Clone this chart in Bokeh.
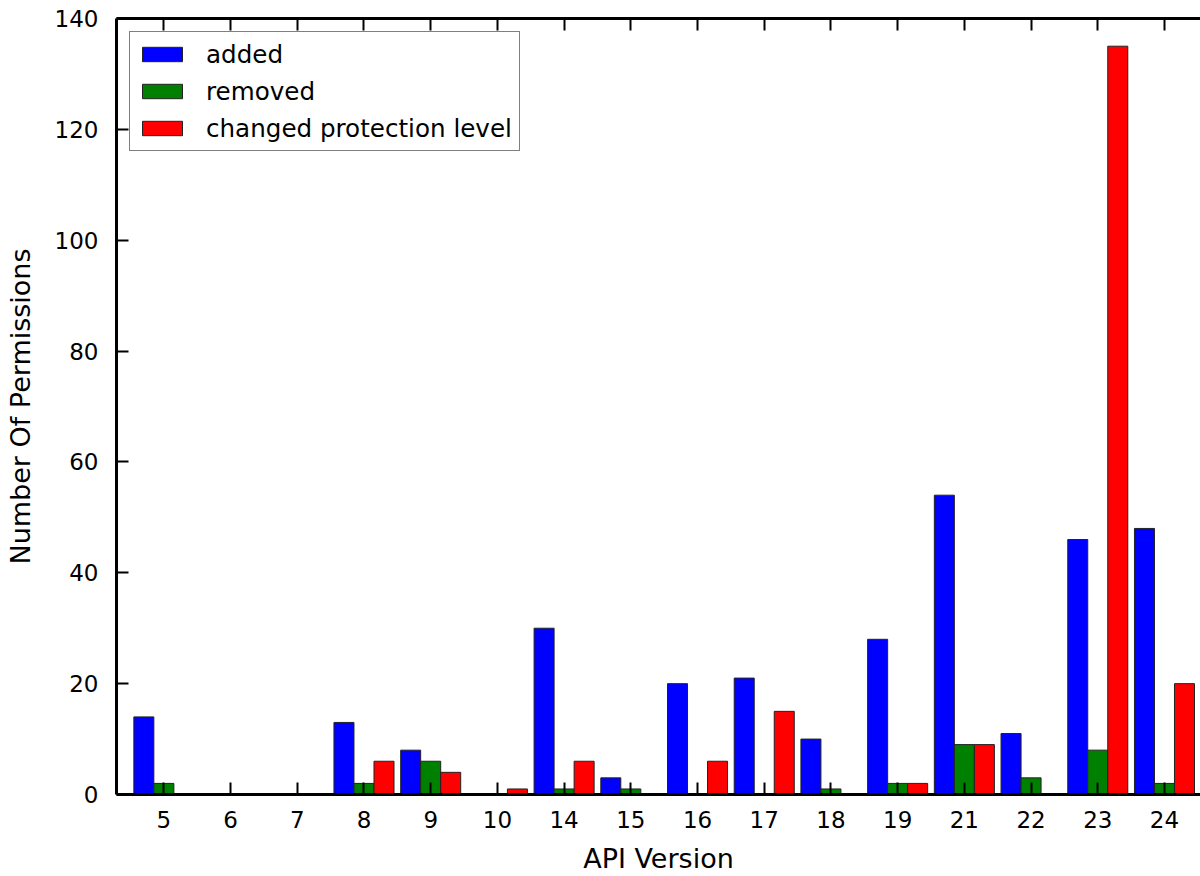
from bokeh.plotting import figure
from bokeh.models import (ColumnDataSource, Range1d, FixedTicker, LinearAxis, Legend, LegendItem)
from bokeh.transform import dodge
from bokeh.embed import file_html
from bokeh.resources import INLINE

# ---- data ----
api_versions = ["5", "6", "7", "8", "9", "10", "14", "15", "16", "17", "18", "19", "21", "22", "23", "24"]
added = [14, 0, 0, 13, 8, 0, 30, 3, 20, 21, 10, 28, 54, 11, 46, 48]
removed = [2, 0, 0, 2, 6, 0, 1, 1, 0, 0, 1, 2, 9, 3, 8, 2]
changed = [0, 0, 0, 6, 4, 1, 6, 0, 6, 15, 0, 2, 9, 0, 135, 20]
y_ticks = [0, 20, 40, 60, 80, 100, 120, 140]

idx = list(range(len(api_versions)))
src = ColumnDataSource(dict(idx=idx, added=added, removed=removed, changed=changed))

FONT = "DejaVu Sans"

p = figure(width=1200, height=876, output_backend="svg", toolbar_location=None,
           x_range=Range1d(-0.71, 15.54), y_range=Range1d(0, 140),
           min_border_left=116, min_border_top=18, min_border_right=0, min_border_bottom=0)
p.outline_line_color = None
p.grid.visible = False
p.background_fill_color = "white"
p.border_fill_color = "white"

bw = 0.3
r1 = p.vbar(x=dodge("idx", -0.3), top="added", width=bw, source=src,
            fill_color="#0000ff", line_color="#222222", line_width=1)
r2 = p.vbar(x=dodge("idx", 0.0), top="removed", width=bw, source=src,
            fill_color="#008000", line_color="#222222", line_width=1)
r3 = p.vbar(x=dodge("idx", 0.3), top="changed", width=bw, source=src,
            fill_color="#ff0000", line_color="#222222", line_width=1)

# axes styling
xa = p.xaxis[0]
xa.ticker = FixedTicker(ticks=idx)
xa.major_label_overrides = {i: v for i, v in zip(idx, api_versions)}
ya = p.yaxis[0]
ya.ticker = FixedTicker(ticks=y_ticks)

for ax in (xa, ya):
    ax.axis_line_width = 3
    ax.axis_line_color = "black"
    ax.major_tick_in = 12
    ax.major_tick_out = 0
    ax.major_tick_line_width = 2
    ax.minor_tick_line_color = None
    ax.major_label_text_font = FONT
    ax.major_label_text_font_size = "23px"
    ax.major_label_text_color = "black"
    ax.axis_label_text_font = FONT
    ax.axis_label_text_font_size = "27px"
    ax.axis_label_text_font_style = "normal"
    ax.axis_label_text_color = "black"

xa.axis_label = "API Version"
xa.major_label_standoff = 16
xa.axis_label_standoff = 12
ya.axis_label = "Number Of Permissions"
ya.major_label_standoff = 18
ya.axis_label_standoff = 16

# top spine with inward ticks
top = LinearAxis(ticker=FixedTicker(ticks=idx), major_label_text_font_size="0px",
                 major_label_standoff=0, axis_line_width=3, major_tick_in=12,
                 major_tick_out=0, major_tick_line_width=2, minor_tick_line_color=None)
top.major_label_overrides = {i: "" for i in idx}
p.add_layout(top, "above")

legend = Legend(items=[LegendItem(label="added", renderers=[r1]),
                       LegendItem(label="removed", renderers=[r2]),
                       LegendItem(label="changed protection level", renderers=[r3])],
                location="top_left", margin=13, padding=7, spacing=7,
                glyph_width=50, glyph_height=18, label_height=30, label_standoff=19,
                label_text_font=FONT, label_text_font_size="24.6px", label_text_color="black",
                border_line_color="black", border_line_width=1,
                background_fill_color="white", background_fill_alpha=1.0)
p.add_layout(legend, "center")

open("out.html", "w").write(file_html(p, INLINE))
